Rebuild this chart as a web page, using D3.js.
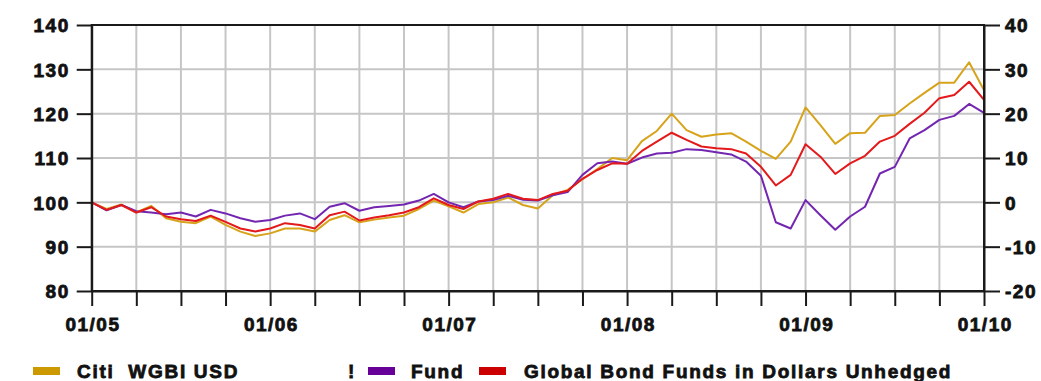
<!DOCTYPE html>
<html>
<head>
<meta charset="utf-8">
<script src="https://cdn.jsdelivr.net/npm/d3@7"></script>
<style>
  html, body { margin: 0; padding: 0; background: #fff; }
  svg { display: block; }
  text { font-family: "Liberation Sans", Arial, sans-serif; font-weight: bold; fill: #111; }
</style>
</head>
<body>
<svg id="chart" width="1041" height="381"></svg>
<script>
// ---- data (monthly, Jan 2005 .. Jan 2010) ----
const months = d3.range(0, 61); // 0 = 01/2005, 60 = 01/2010
const citiWGBI = [
  100.0, 98.5, 99.5, 97.7, 99.2, 96.4, 95.6, 95.3, 96.8, 94.9, 93.4, 92.4,
  93.0, 94.1, 94.1, 93.4, 96.0, 97.1, 95.5, 96.1, 96.6, 97.0, 98.5, 100.4,
  99.1, 97.7, 99.6, 100.0, 101.1, 99.4, 98.6, 101.6, 102.8, 105.2, 107.5, 110.0,
  109.5, 113.8, 116.1, 120.0, 116.3, 114.8, 115.3, 115.6, 113.7, 111.6, 109.8, 113.7,
  121.4, 117.4, 113.2, 115.6, 115.7, 119.5, 119.7, 122.3, 124.7, 127.0, 127.0, 131.6,
  125.3
];
const fund = [
  100.0, 98.2, 99.4, 98.0, 97.7, 97.3, 97.7, 96.8, 98.3, 97.5, 96.4, 95.6,
  96.0, 97.0, 97.5, 96.2, 99.0, 99.8, 98.1, 98.9, 99.2, 99.5, 100.4, 101.9,
  100.0, 98.9, 100.2, 100.5, 101.5, 100.6, 100.4, 101.6, 102.3, 106.2, 108.8, 109.2,
  108.7, 110.1, 111.0, 111.2, 112.0, 111.8, 111.3, 110.8, 109.2, 106.0, 95.5, 94.1,
  100.5, 97.1, 93.8, 96.8, 99.0, 106.5, 108.0, 114.4, 116.3, 118.6, 119.5, 122.2,
  120.2
];
const globalBondFunds = [
  100.0, 98.3, 99.4, 97.7, 98.9, 96.8, 96.2, 95.8, 97.0, 95.6, 94.1, 93.4,
  94.1, 95.3, 94.9, 94.1, 97.1, 97.9, 95.9, 96.6, 97.1, 97.7, 98.9, 100.9,
  99.4, 98.5, 100.2, 100.8, 101.9, 100.8, 100.5, 101.9, 102.6, 105.3, 107.3, 108.8,
  108.7, 111.6, 113.7, 115.7, 114.1, 112.6, 112.2, 112.0, 111.0, 108.0, 103.8, 106.2,
  113.1, 110.3, 106.4, 108.8, 110.5, 113.7, 115.0, 117.7, 120.2, 123.5, 124.2, 127.2,
  123.1
];
const leftTicks = [80, 90, 100, 110, 120, 130, 140];
const rightTicks = [-20, -10, 0, 10, 20, 30, 40];
const quarterTicks = d3.range(0, 61, 3);
const yearTickLabels = { 0: "01/05", 12: "01/06", 24: "01/07", 36: "01/08", 48: "01/09", 60: "01/10" };
const seriesNames = ["Citi  WGBI USD", "Fund", "Global Bond Funds in Dollars Unhedged"];

// ---- layout ----
const L = 91.7, R = 984, T = 25, B = 291;
const svg = d3.select("#chart");
const x = d3.scaleLinear().domain([0, 60]).range([L, R]);
const y = d3.scaleLinear().domain([80, 140]).range([B, T]);
const yR = d3.scaleLinear().domain([-20, 40]).range([B, T]);

const grid = "#c6c6c6", axisCol = "#1a1a1a";
const colGold = "#d6a31a", colPurple = "#7326b0", colRed = "#e3191b";

// gridlines
svg.append("g").selectAll("line.h").data(leftTicks.filter(v => v > 80 && v < 140)).join("line")
  .attr("x1", L).attr("x2", R).attr("y1", d => y(d)).attr("y2", d => y(d))
  .attr("stroke", grid).attr("stroke-width", 2);
svg.append("g").selectAll("line.v").data(quarterTicks.filter(m => m > 0 && m < 60)).join("line")
  .attr("x1", d => x(d)).attr("x2", d => x(d)).attr("y1", T).attr("y2", B)
  .attr("stroke", grid).attr("stroke-width", 2);

// lines
const line = d3.line().x((d, i) => x(months[i])).y(d => y(d));
[[citiWGBI, colGold], [fund, colPurple], [globalBondFunds, colRed]].forEach(([data, c]) => {
  svg.append("path").datum(data).attr("d", line)
    .attr("fill", "none").attr("stroke", c).attr("stroke-width", 2).attr("stroke-linejoin", "round");
});

// frame
svg.append("rect").attr("x", L).attr("y", T).attr("width", R - L).attr("height", B - T)
  .attr("fill", "none").attr("stroke", axisCol).attr("stroke-width", 2);

function styleAxis(g) {
  g.select(".domain").attr("stroke", axisCol).attr("stroke-width", 2);
  g.selectAll(".tick line").attr("stroke", axisCol).attr("stroke-width", 2);
  g.selectAll(".tick text").attr("fill", "#111").attr("stroke", "#111").attr("stroke-width", 0.8)
    .style("font-family", '"Liberation Sans", Arial, sans-serif')
    .style("font-weight", "bold").style("font-size", "19px").style("letter-spacing", "1.5px");
}

svg.append("g").attr("transform", `translate(${L},0)`)
  .call(d3.axisLeft(y).tickValues(leftTicks).tickSize(15).tickPadding(6).tickSizeOuter(0))
  .call(styleAxis)
  .call(g => g.selectAll(".tick text").attr("dy", "0.36em").attr("x", -22));

svg.append("g").attr("transform", `translate(${R},0)`)
  .call(d3.axisRight(yR).tickValues(rightTicks).tickSize(16).tickPadding(5).tickSizeOuter(0)
    .tickFormat(d => d < 0 ? "-" + Math.abs(d) : String(d)))
  .call(styleAxis)
  .call(g => g.selectAll(".tick text").attr("dy", "0.36em"));

svg.append("g").attr("transform", `translate(0,${B})`)
  .call(d3.axisBottom(x).tickValues(quarterTicks).tickSize(15).tickPadding(12).tickSizeOuter(0)
    .tickFormat(d => yearTickLabels[d] || ""))
  .call(styleAxis)
  .call(g => g.selectAll(".tick text").attr("dx", "0.75px"));

// legend
const lg = svg.append("g").style("font-size", "19px").style("letter-spacing", "1.7px");
const legendItems = [
  { name: seriesNames[0], color: colGold, sw: "#cc9900", sx: 33, tx: 77 },
  { name: seriesNames[1], color: colPurple, sw: "#660099", sx: 368, tx: 411 },
  { name: seriesNames[2], color: colRed, sw: "#cc0000", sx: 479, tx: 524 }
];
legendItems.forEach(it => {
  lg.append("rect").attr("x", it.sx).attr("y", 367).attr("width", 27).attr("height", 8)
    .attr("fill", it.sw);
  lg.append("text").attr("x", it.tx).attr("y", 378).style("white-space", "pre")
    .attr("stroke", "#111").attr("stroke-width", 0.8).text(it.name);
});
lg.append("text").attr("x", 348).attr("y", 378).attr("stroke", "#111").attr("stroke-width", 0.8).text("!");
</script>
</body>
</html>
